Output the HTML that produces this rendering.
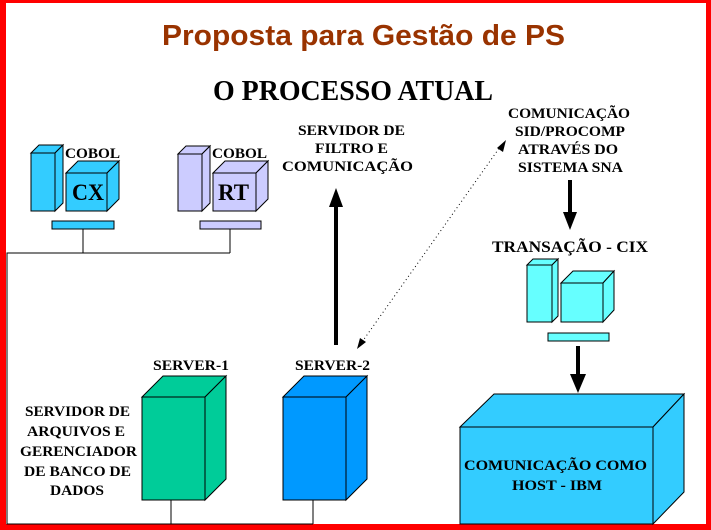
<!DOCTYPE html>
<html><head><meta charset="utf-8"><style>
html,body{margin:0;padding:0;background:#fff;}
svg{display:block;}
.s{font-family:"Liberation Serif",serif;font-weight:bold;fill:#000;}
</style></head><body>
<svg width="711" height="530" viewBox="0 0 711 530" xmlns="http://www.w3.org/2000/svg">
<rect x="0" y="0" width="711" height="530" fill="#ff0000"/>
<rect x="6" y="3" width="700" height="521" fill="#ffffff"/>
<text x="162" y="45" textLength="403" lengthAdjust="spacingAndGlyphs" font-family="Liberation Sans, sans-serif" font-weight="bold" font-size="29" fill="#993300">Proposta para Gestão de PS</text>
<text x="213" y="100" textLength="280" lengthAdjust="spacingAndGlyphs" class="s" font-size="28">O PROCESSO ATUAL</text>

<g stroke="#000" stroke-width="1">
<polygon points="31,153 39,145 63,145 55,153" fill="#33ccff"/>
<polygon points="55,153 63,145 63,203 55,211" fill="#33ccff"/>
<rect x="31" y="153" width="24" height="58" fill="#33ccff"/>
<polygon points="66,173 78,161 119,161 107,173" fill="#33ccff"/>
<polygon points="107,173 119,161 119,199 107,211" fill="#33ccff"/>
<rect x="66" y="173" width="41" height="38" fill="#33ccff"/>
<rect x="52" y="221" width="62" height="8" fill="#33ccff"/>
<polygon points="178,154 186,146 210,146 202,154" fill="#ccccff"/>
<polygon points="202,154 210,146 210,203 202,211" fill="#ccccff"/>
<rect x="178" y="154" width="24" height="57" fill="#ccccff"/>
<polygon points="213,173 225,161 268,161 256,173" fill="#ccccff"/>
<polygon points="256,173 268,161 268,199 256,211" fill="#ccccff"/>
<rect x="213" y="173" width="43" height="38" fill="#ccccff"/>
<rect x="200" y="221" width="61" height="8" fill="#ccccff"/>
<polyline points="83,229 83,253" fill="none"/>
<polyline points="230,229 230,253" fill="none"/>
<polyline points="230,253 7,253 7,524 313,524" fill="none"/>
<line x1="171" y1="500" x2="171" y2="524"/>
<line x1="313" y1="500" x2="313" y2="524"/>
<polygon points="142,397 163,376 226,376 205,397" fill="#00cc99"/>
<polygon points="205,397 226,376 226,479 205,500" fill="#00cc99"/>
<rect x="142" y="397" width="63" height="103" fill="#00cc99"/>
<polygon points="283,397 304,376 367,376 346,397" fill="#0099ff"/>
<polygon points="346,397 367,376 367,479 346,500" fill="#0099ff"/>
<rect x="283" y="397" width="63" height="103" fill="#0099ff"/>
<polygon points="527,265 533,259 558,259 552,265" fill="#66ffff"/>
<polygon points="552,265 558,259 558,316 552,322" fill="#66ffff"/>
<rect x="527" y="265" width="25" height="57" fill="#66ffff"/>
<polygon points="561,283 573,271 614,271 603,283" fill="#66ffff"/>
<polygon points="603,283 614,271 614,310 603,322" fill="#66ffff"/>
<rect x="561" y="283" width="42" height="39" fill="#66ffff"/>
<rect x="548" y="333" width="61" height="8" fill="#66ffff"/>
<polygon points="460,427 494,394 684,394 653,427" fill="#33ccff"/>
<polygon points="653,427 684,394 684,492 653,524" fill="#33ccff"/>
<rect x="460" y="427" width="193" height="97" fill="#33ccff"/>
</g>

<line x1="336" y1="345" x2="336" y2="205" stroke="#000" stroke-width="4"/>
<polygon points="336,188 329,207 343,207" fill="#000"/>
<line x1="570" y1="180" x2="570" y2="215" stroke="#000" stroke-width="4"/>
<polygon points="570,230 563,212 577,212" fill="#000"/>
<line x1="578" y1="346" x2="578" y2="378" stroke="#000" stroke-width="4"/>
<polygon points="578,393 570,374 586,374" fill="#000"/>
<line x1="362" y1="342" x2="500" y2="147" stroke="#000" stroke-width="1" stroke-dasharray="1,3"/>
<polygon points="506,140 497,148 503,152" fill="#000"/>
<polygon points="357,349 360,338 366,342" fill="#000"/>

<g class="s" font-size="15">
<text x="65" y="158" textLength="55" lengthAdjust="spacingAndGlyphs">COBOL</text>
<text x="212" y="158" textLength="55" lengthAdjust="spacingAndGlyphs">COBOL</text>
<text x="72" y="200" font-size="23" textLength="32" lengthAdjust="spacingAndGlyphs">CX</text>
<text x="218" y="200" font-size="23" textLength="31" lengthAdjust="spacingAndGlyphs">RT</text>
<text x="298" y="135" textLength="107" lengthAdjust="spacingAndGlyphs">SERVIDOR DE</text>
<text x="315" y="153" textLength="73" lengthAdjust="spacingAndGlyphs">FILTRO E</text>
<text x="282" y="171" textLength="131" lengthAdjust="spacingAndGlyphs">COMUNICAÇÃO</text>
<text x="508" y="118" textLength="122" lengthAdjust="spacingAndGlyphs">COMUNICAÇÃO</text>
<text x="515" y="136" textLength="110" lengthAdjust="spacingAndGlyphs">SID/PROCOMP</text>
<text x="518" y="154" textLength="100" lengthAdjust="spacingAndGlyphs">ATRAVÉS DO</text>
<text x="518" y="172" textLength="105" lengthAdjust="spacingAndGlyphs">SISTEMA SNA</text>
<text x="492" y="252" font-size="16" textLength="156" lengthAdjust="spacingAndGlyphs">TRANSAÇÃO - CIX</text>
<text x="153" y="370" textLength="76" lengthAdjust="spacingAndGlyphs">SERVER-1</text>
<text x="295" y="370" textLength="75" lengthAdjust="spacingAndGlyphs">SERVER-2</text>
<text x="25" y="416" textLength="105" lengthAdjust="spacingAndGlyphs">SERVIDOR DE</text>
<text x="27" y="436" textLength="98" lengthAdjust="spacingAndGlyphs">ARQUIVOS E</text>
<text x="20" y="456" textLength="117" lengthAdjust="spacingAndGlyphs">GERENCIADOR</text>
<text x="24" y="476" textLength="107" lengthAdjust="spacingAndGlyphs">DE BANCO DE</text>
<text x="50" y="495" textLength="54" lengthAdjust="spacingAndGlyphs">DADOS</text>
<text x="464" y="470" textLength="183" lengthAdjust="spacingAndGlyphs">COMUNICAÇÃO COMO</text>
<text x="512" y="490" textLength="90" lengthAdjust="spacingAndGlyphs">HOST - IBM</text>
</g>
</svg>
</body></html>
